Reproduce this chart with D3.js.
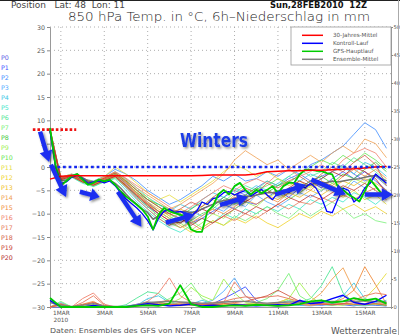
<!DOCTYPE html>
<html><head><meta charset="utf-8">
<script src="https://cdn.jsdelivr.net/npm/d3@7"></script>
<style>html,body{margin:0;padding:0;background:#fff;}svg{display:block;}</style>
</head><body><svg id="c" width="400" height="335"></svg>
<script>
// ---------- DATA ----------
const stepHours6 = d3.range(63).map(i => i * 6);
const stepHours12 = d3.range(32).map(i => i * 12);

const dayTickHours = [12, 60, 108, 156, 204, 252, 300, 348];
const dayTickLabels = ["1MAR", "3MAR", "5MAR", "7MAR", "9MAR", "11MAR", "13MAR", "15MAR"];
const yearLabel = "2010";
const tempTicks = [-30, -25, -20, -15, -10, -5, 0, 5, 10, 15, 20, 25, 30];
const precTicks = [0, 5, 10, 15, 20, 25, 30, 35, 40, 45, 50];

// 6-hourly main runs (°C)
const gfsMain = [8.4,0.5,-4.0,-3.0,-2.0,-1.5,-2.7,-3.8,-3.4,-2.7,-3.1,-2.7,-3.8,-5.2,-6.3,-7.2,-8.1,-9.1,-10.6,-13.4,-10.2,-8.8,-9.5,-9.9,-10.2,-10.9,-13.4,-13.9,-13.9,-9.5,-8.4,-5.9,-4.9,-5.9,-4.1,-3.4,-4.9,-5.9,-4.9,-5.6,-4.9,-4.1,-5.6,-4.1,-3.4,-3.4,-1.6,-0.6,-0.6,-0.8,-0.9,-1.3,-1.6,-4.1,-4.9,-5.9,-6.6,-7.4,-5.2,-2.7,-4.1,-5.6,-5.9];
const controlRun = [7.8,0,-3.5,-3.2,-2.2,-1.8,-2.5,-3.5,-3.2,-3.0,-3.4,-3.0,-4.0,-5.5,-6.8,-7.8,-8.8,-10,-11.5,-13.5,-11,-9.5,-9,-9.8,-9.5,-10,-10.5,-9.5,-7.5,-8,-6.8,-6.5,-5.5,-5.3,-6,-5.5,-5,-6.2,-5.5,-4.8,-6,-7,-5.5,-5,-5.5,-4.5,-3.8,-4.5,-3.5,-4.5,-6.5,-9.5,-9.8,-7,-4.5,-5,-7.5,-6.5,-4.5,-3.5,-1.5,-2.5,-3.5];
const ensembleMean = [8,0.5,-3,-2.8,-1.8,-1.5,-2.3,-3.0,-3.2,-2.8,-3.0,-2.8,-3.5,-4.5,-5.8,-7,-8,-9,-9.8,-11.2,-10.5,-9.5,-9.2,-9.5,-9.6,-9.5,-9.8,-9.5,-9,-8.5,-8,-7.5,-7.2,-7,-6.8,-6.5,-6.2,-6.3,-6,-5.8,-5.5,-5.5,-5.2,-5,-4.8,-4.5,-4.2,-4,-3.8,-3.5,-3.5,-3.3,-3,-3.2,-3,-2.8,-2.6,-2.5,-2.2,-2,-1.8,-2.5,-3];
// 12-hourly climatology (°C)
const climateMean = [-2.6,-2.0,-1.9,-1.9,-1.9,-1.9,-1.9,-1.9,-1.9,-1.9,-1.9,-1.9,-1.9,-1.9,-1.8,-1.7,-1.7,-1.7,-1.7,-1.5,-1.0,-0.9,-0.8,-0.8,-0.7,-0.7,-0.6,-0.5,-0.4,-0.2,0,0.1];

// 12-hourly ensemble members (°C)
const memberNames = ["P0","P1","P2","P3","P4","P5","P6","P7","P8","P9","P10","P11","P12","P13","P14","P15","P16","P17","P18","P19","P20"];
const memberColors = ["#5a5ae6","#3c50ff","#3c8cff","#50aaff","#3cc8e6","#3ce6c8","#50e696","#78f078","#3cc83c","#a0f050","#64e650","#e6dc3c","#f0d228","#f0be28","#f0a050","#f08c3c","#f0826e","#e6785a","#d25a46","#c83c32","#b42828"];
const memberTemps = [
 [8.0,-2.5,-1.8,-2.8,-3.5,-2.5,-1.5,-3.5,-5.5,-7.5,-9.5,-11,-12,-10.5,-9,-8,-6.5,-5,-6,-4.5,-3,-4,-2.5,-1.5,-3,-2,-1,0.5,-1.5,-3,-2,-4],
 [7.6,-2.8,-2.0,-3.0,-3.8,-2.8,-2.0,-4.0,-6.5,-8.5,-10,-9,-10.5,-12,-11,-9.5,-8,-9,-7.5,-8,-6.5,-5,-6.5,-4.5,-3,-4.5,-2.5,-1,-2.5,-1,-3,-5],
 [8.2,-2.2,-1.5,-2.5,-3.0,-2.0,-0.5,-1.5,-3,-5,-6.5,-8,-7,-5.5,-4,-2,-3,-1.5,-3,-2.5,-1,-2,-0.5,-1.5,0.5,1.5,3,4.5,7,9.5,8,4],
 [7.8,-2.6,-1.9,-3.2,-4.0,-3.0,-2.2,-4.5,-7,-9,-11,-12.5,-11,-9.5,-10.5,-8.5,-9.5,-7.5,-8.5,-6,-7.5,-8.5,-7,-5.5,-6.5,-5,-4,-5.5,-3,-4.5,-2,-3.5],
 [7.9,-2.4,-1.7,-2.7,-3.3,-2.4,-1.0,-2.5,-4.5,-6.5,-8,-9.5,-8,-9,-7,-5.5,-6.5,-4.5,-5.5,-4,-5,-3.5,-2,-3,-1.5,-2.5,-1,0,-1.5,1,0,-2],
 [7.5,-3.0,-2.2,-3.5,-4.2,-3.2,-2.5,-5,-7.5,-9.5,-11.5,-13,-14,-12.5,-11,-12,-10,-11,-9,-10,-8.5,-9.5,-8,-9,-7,-8,-6.5,-7.5,-5.5,-6.5,-8,-6],
 [8.1,-2.3,-1.6,-2.6,-3.2,-2.2,-1.2,-2.8,-5,-7,-8.5,-10,-11.5,-10,-8.5,-6.5,-7.5,-5.5,-4,-5,-3,-4,-2,-0.5,-2,-1,1,0,2,0.5,-1,-3],
 [7.7,-2.7,-2.0,-3.1,-3.7,-2.7,-1.8,-3.8,-6,-8,-9.5,-11,-10,-11.5,-13,-11.5,-12.5,-10.5,-11.5,-10,-8.5,-10,-11,-9,-10.5,-9,-7.5,-9,-11,-10,-11.5,-12],
 [8.0,-2.5,-1.8,-2.9,-3.6,-2.6,-1.6,-3.2,-5.5,-7,-8,-9,-10.5,-9,-7.5,-8.5,-6.5,-7.5,-6,-4.5,-5.5,-4,-3,-4.5,-3,-2,-3.5,-1.5,-2.5,-0.5,1,-1],
 [7.9,-2.4,-1.7,-2.8,-3.4,-2.3,-1.3,-3.0,-5,-6.5,-8.5,-10.5,-12,-13.5,-12,-10,-11,-9,-7.5,-8.5,-6.5,-5.5,-7,-5.5,-4,-5,-3.5,-4.5,-2.5,-3.5,-1.5,-4],
 [7.6,-2.9,-2.1,-3.3,-4.1,-3.1,-2.3,-4.2,-6.5,-8.5,-10.5,-12,-13,-11.5,-10,-9,-7,-8,-6.5,-5,-4,-2.5,-3.5,-1.5,0,1.5,0.5,2.5,1,3,1.5,-0.5],
 [8.2,-2.2,-1.5,-2.5,-3.1,-2.1,0,-1.5,-3.5,-5.5,-7,-6,-7.5,-6,-4.5,-3,-1,0.5,-0.5,-2,-1,-2.5,-4,-3,-4.5,-3,-5,-6.5,-5,-7,-6,-8],
 [7.8,-2.6,-1.9,-3.0,-3.7,-2.8,-2.0,-4.0,-6,-8,-9.5,-11,-12.5,-14,-13,-11.5,-12.5,-11,-12,-10.5,-12,-13,-11.5,-10,-11,-9.5,-10.5,-9,-8,-9.5,-8.5,-10],
 [7.9,-2.5,-1.8,-2.8,-3.5,-2.5,-1.4,-3.2,-5.5,-7.5,-9,-10.5,-9,-10,-8.5,-7,-8,-6,-7,-5,-6,-7,-5.5,-6.5,-5,-6,-4.5,-3,-4,-2.5,-3.5,-5],
 [8.0,-2.4,-1.7,-2.7,-3.3,-2.3,-1.1,-2.6,-4.5,-6,-7.5,-9,-8,-6.5,-5,-3.5,-1.5,1.5,3.5,2,0.5,1.5,-0.5,1,2.5,1,3,4.5,3,6,5,2],
 [7.7,-2.8,-2.0,-3.2,-3.9,-2.9,-2.1,-4.3,-6.8,-9,-11,-12.5,-11,-12,-10.5,-9,-10,-8.5,-7,-8,-6.5,-7.5,-5.5,-4,-5,-3,-4,-2,-0.5,-2,-0.5,-2.5],
 [8.1,-2.3,-1.6,-2.6,-3.2,-2.2,-1.0,-2.4,-4,-5.5,-7,-8.5,-10,-8.5,-7,-5.5,-4,-5,-3.5,-2.5,-3.5,-1.5,-0.5,-2,-1,0.5,-1,1.5,3,4,3,0],
 [7.8,-2.6,-1.9,-3.1,-3.8,-2.8,-1.9,-3.8,-6,-8,-10,-11.5,-13,-12,-13.5,-12,-10.5,-11.5,-10,-11,-9.5,-8,-9,-7.5,-8,-6.5,-7.5,-6,-7,-5.5,-4.5,-6],
 [7.9,-2.5,-1.8,-2.9,-3.6,-2.6,-1.7,-3.5,-5.8,-7.8,-9.5,-10,-9,-7.5,-8.5,-6.5,-5,-6,-4.5,-5.5,-3.5,-4.5,-3,-2,-3.5,-1.5,0,-1,1,2.5,0.5,-4],
 [8.0,-2.4,-1.7,-2.8,-3.4,-2.4,-1.3,-3.0,-5,-7,-8.5,-10,-11,-12.5,-11,-12,-10.5,-9,-10,-8.5,-9.5,-8,-6.5,-7.5,-6,-7,-5.5,-4,-5,-3.5,-5,-7],
 [7.7,-2.7,-2.0,-3.2,-3.9,-2.9,-2.0,-4.0,-6.2,-8.2,-10,-11.5,-12,-10.5,-9,-10,-8,-6.5,-7.5,-6,-5,-6,-4.5,-3,-4,-2.5,-1,-2,0,-1,-2.5,-5.5]
];

// 12-hourly 6h-precipitation (mm), right axis
const precipMemberIdx = [1, 3, 4, 6, 7, 9, 11, 14, 15, 16, 17, 18];
const precipMembers = [
 [0,0,0,0,0.3,0,0,0,0.5,0.8,0.4,0.2,0.3,0.5,0.4,0.6,1.5,2.5,3.6,1.2,0.3,0.2,0.4,0.8,0.5,0.3,0.6,0.4,0.2,0.5,0.3,0.2],
 [0,0.8,0,0,0,0,0,0.2,0.4,0.9,0.6,0.3,0.5,0.8,0.6,1.2,2.8,5.2,2.0,0.6,0.3,0.2,0.5,0.3,0.2,0.4,0.3,0.6,0.3,0.2,0.4,0.2],
 [0,0.5,0,0,0.2,0,0,0,0.3,1.5,2.0,0.8,0.3,0.5,1.2,0.6,0.3,0.4,0.2,0.3,0.5,0.4,0.6,0.3,0.5,0.8,0.6,2.0,4.3,1.5,0.8,1.2],
 [0,0.6,0,0,0.3,0,0,0.4,1.6,2.7,2.4,1.0,0.4,0.6,0.3,0.5,0.8,0.4,0.3,0.5,0.3,0.6,1.2,0.8,1.5,3.8,7.2,2.5,0.8,1.5,0.6,0.4],
 [0,1.0,0,0,0.5,0.2,0,0,0.3,0.6,0.5,1.5,2.5,4.3,1.5,0.6,0.4,0.3,0.5,0.8,1.5,3.0,6.0,2.0,0.8,0.5,0.3,0.6,0.4,0.3,0.5,0.3],
 [0,0.4,0,0,0,0,0,0,0.2,0.5,0.8,0.6,1.5,3.5,2.0,1.2,5.0,2.5,0.8,0.4,0.6,0.8,1.5,4.3,1.8,0.6,0.4,0.3,0.8,1.2,0.5,0.3],
 [0,0.3,0,0,0.4,0,0,0,0.2,0.3,0.5,0.3,0.2,0.4,0.3,0.5,0.4,0.3,0.5,0.6,0.4,0.8,1.5,0.6,0.4,1.2,0.8,0.6,0.4,1.5,3.5,6.0],
 [0,0.5,0,0.3,0.8,0,0,0,0.3,0.5,0.6,0.4,0.3,0.5,0.4,0.3,0.6,0.5,0.4,0.3,0.5,0.8,0.6,0.4,1.0,2.5,5.0,7.0,3.0,1.0,0.5,0.8],
 [0,0.4,0,0.5,1.0,0,0,0,0.2,0.4,0.3,0.5,0.6,0.3,0.5,0.4,0.3,0.6,0.4,0.5,0.3,0.4,0.6,0.5,0.3,0.5,0.8,1.5,3.0,7.2,4.0,0.5],
 [0,0.6,0,1.5,2.5,0.5,0,0,0.4,1.0,2.5,5.2,2.0,0.8,0.5,0.6,0.8,4.5,2.0,0.8,0.5,0.6,0.4,0.5,0.3,0.6,0.4,0.5,0.8,0.6,1.0,0.5],
 [0,0.5,0,0.8,2.0,0.3,0,0,0.3,0.6,0.9,1.2,0.8,0.6,0.5,0.8,1.0,1.5,1.8,1.6,1.8,2.0,1.5,1.0,0.8,0.6,0.5,0.6,1.2,2.0,2.5,2.2],
 [0,0.4,0,0.4,0.8,0.2,0,0,0.2,0.5,0.8,0.5,0.4,0.6,0.5,0.4,0.6,0.8,1.0,1.5,2.0,3.0,2.0,1.0,0.6,0.5,0.4,0.6,0.5,0.4,0.6,0.3]
];
const precipGfs = [1.6,0,0,0,0,0,0,0,0.2,0.3,0.2,0.6,3.9,0.5,0,0,0.2,0.3,0.2,0.4,0.3,0.2,0.3,0.5,1.0,1.2,0.8,1.0,1.6,1.2,1.5,0.6];
const precipControl = [1.2,0,0,0,0.3,0,0,0,0.3,0.6,0.4,0.2,0.3,0.5,0.2,0.3,0.2,0.4,0.3,0.2,0.3,0.4,0.3,1.2,0.6,0.8,1.5,2.1,0.8,0.5,1.0,2.1];
const precipMean = [0.8,0.3,0.1,0.3,0.6,0.2,0.1,0.1,0.4,0.8,0.9,1.0,0.9,0.8,0.7,0.7,0.9,1.0,1.0,0.8,0.7,0.8,0.9,0.9,0.8,0.9,1.0,1.0,1.0,1.1,1.0,0.9];

const legendLabels = ["30-Jahres-Mittel", "Kontroll-Lauf", "GFS-Hauptlauf", "Ensemble-Mittel"];
const legendColors = ["#ff0000", "#0000ff", "#00cc00", "#808080"];

// annotations in data space: [hour1, temp1, hour2, temp2]
const arrowsData = [
 [-11, 7.6, -1, 1.1], [1, 0.5, 17.7, -6.4], [33, -5.3, 55, -6.4], [75, -5.3, 101, -12.8],
 [128, -11.9, 160, -10.2], [188, -8.1, 219, -6.4], [249, -5.9, 283, -3.8],
 [289, -2.7, 327, -5.9], [348, -5.9, 379, -5.9]
];
const redDotted = {t: 8, h1: -19, h2: 29};
const blueDotted = {t: 0, h1: 2, h2: 377};
const annotationText = "Winters";

// ---------- DRAW ----------
const svg = d3.select("#c");
const x = d3.scaleLinear().domain([0, 377]).range([50, 391]);
const yT = d3.scaleLinear().domain([-30, 30]).range([307, 27]);
const yP = d3.scaleLinear().domain([0, 50]).range([307, 27]);
const font = "'DejaVu Sans', sans-serif";

const defs = svg.append("defs");
const f = defs.append("filter").attr("id", "sh").attr("x", "-20%").attr("y", "-20%").attr("width", "150%").attr("height", "160%");
f.append("feDropShadow").attr("dx", 1.5).attr("dy", 1.5).attr("stdDeviation", 1).attr("flood-color", "#000").attr("flood-opacity", 0.45);

svg.append("rect").attr("width", 400).attr("height", 335).attr("fill", "#fff");

// grid
const g = svg.append("g");
g.selectAll(".hg").data(tempTicks.filter(d => d > -30)).join("line")
  .attr("x1", 50).attr("x2", 391).attr("y1", d => yT(d)).attr("y2", d => yT(d))
  .attr("stroke", "#999").attr("stroke-width", 0.8).attr("stroke-dasharray", "1,3");
g.selectAll(".vg").data(dayTickHours).join("line")
  .attr("x1", d => x(d)).attr("x2", d => x(d)).attr("y1", 27).attr("y2", 307)
  .attr("stroke", "#999").attr("stroke-width", 0.8).attr("stroke-dasharray", "1,3");

// axes
const axL = svg.append("g").attr("transform", "translate(50,0)")
  .call(d3.axisLeft(yT).tickValues(tempTicks).tickSize(3).tickPadding(2));
const axR = svg.append("g").attr("transform", "translate(391,0)")
  .call(d3.axisRight(yP).tickValues(precTicks).tickSize(2).tickPadding(0.5));
const axB = svg.append("g").attr("transform", "translate(0,307)")
  .call(d3.axisBottom(x).tickValues(dayTickHours).tickFormat((d, i) => dayTickLabels[i]).tickSize(2).tickPadding(2));
[axL, axR, axB].forEach(a => {
  a.selectAll("path.domain").attr("stroke", "#999").attr("stroke-width", 1);
  a.selectAll(".tick line").attr("stroke", "#888");
  a.selectAll("text").attr("font-family", font).attr("font-size", 6.3).attr("fill", "#555");
});
axB.selectAll("text").attr("font-size", 5.8);
axR.selectAll("text").attr("font-size", 5.2);
svg.append("text").attr("x", x(dayTickHours[0])).attr("y", 322).attr("text-anchor", "middle")
  .attr("font-family", font).attr("font-size", 5.8).attr("fill", "#555").text(yearLabel);

// lines
const lineT12 = d3.line().x((d, i) => x(stepHours12[i])).y(d => yT(d));
const lineT6 = d3.line().x((d, i) => x(stepHours6[i])).y(d => yT(d));
const lineP12 = d3.line().x((d, i) => x(stepHours12[i])).y(d => yP(d));

const lines = svg.append("g").attr("fill", "none").attr("stroke-linejoin", "round");
lines.selectAll(".pm").data(precipMembers).join("path")
  .attr("d", d => lineP12(d)).attr("stroke", (d, i) => memberColors[precipMemberIdx[i]]).attr("stroke-width", 0.9);
lines.append("path").attr("d", lineP12(precipMean)).attr("stroke", "#808080").attr("stroke-width", 1.4);
lines.append("path").attr("d", lineP12(precipControl)).attr("stroke", "#0000ff").attr("stroke-width", 1.4);
lines.append("path").attr("d", lineP12(precipGfs)).attr("stroke", "#00cc00").attr("stroke-width", 1.8);

lines.selectAll(".tm").data(memberTemps).join("path")
  .attr("d", d => lineT12(d)).attr("stroke", (d, i) => memberColors[i]).attr("stroke-width", 0.8);
lines.append("path").attr("d", lineT6(ensembleMean)).attr("stroke", "#707070").attr("stroke-width", 1.5);
lines.append("path").attr("d", lineT6(controlRun)).attr("stroke", "#0000ff").attr("stroke-width", 1.3);
lines.append("path").attr("d", lineT6(gfsMain)).attr("stroke", "#00cc00").attr("stroke-width", 1.8);
lines.append("path").attr("d", lineT12(climateMean)).attr("stroke", "#ff0000").attr("stroke-width", 1.5);

// legend
const lg = svg.append("g");
lg.append("rect").attr("x", 291).attr("y", 27).attr("width", 100).attr("height", 38)
  .attr("fill", "#fff").attr("stroke", "#999").attr("stroke-width", 0.8);
legendLabels.forEach((lab, i) => {
  const yy = 35.3 + i * 8;
  lg.append("line").attr("x1", 302).attr("x2", 323).attr("y1", yy).attr("y2", yy)
    .attr("stroke", legendColors[i]).attr("stroke-width", 1.5);
  lg.append("text").attr("x", 333).attr("y", yy + 2).attr("font-family", font).attr("font-size", 5.6)
    .attr("fill", "#555").text(lab);
});

// member labels
svg.selectAll(".ml").data(memberNames).join("text")
  .attr("x", 1).attr("y", (d, i) => 59.5 + i * 10)
  .attr("font-family", font).attr("font-size", 6.3).attr("fill", (d, i) => memberColors[i]).text(d => d);

// headings
svg.append("text").attr("x", 11).attr("y", 8).attr("font-family", font).attr("font-size", 8)
  .attr("fill", "#444").attr("textLength", 114).attr("lengthAdjust", "spacingAndGlyphs")
  .attr("xml:space", "preserve").text("Position   Lat: 48  Lon: 11");
svg.append("text").attr("x", 68).attr("y", 21).attr("font-family", font).attr("font-size", 12.5)
  .attr("font-weight", 200).attr("fill", "#222").attr("textLength", 302).attr("lengthAdjust", "spacingAndGlyphs")
  .text("850 hPa Temp. in °C, 6h\u2013Niederschlag in mm");
svg.append("text").attr("x", 270).attr("y", 8).attr("font-family", font).attr("font-size", 8)
  .attr("font-weight", "bold").attr("fill", "#111").attr("textLength", 97).attr("lengthAdjust", "spacingAndGlyphs")
  .attr("xml:space", "preserve").text("Sun,28FEB2010  12Z");
svg.append("text").attr("x", 50).attr("y", 333).attr("font-family", font).attr("font-size", 7)
  .attr("fill", "#555").attr("textLength", 146).attr("lengthAdjust", "spacingAndGlyphs")
  .text("Daten: Ensembles des GFS von NCEP");
svg.append("text").attr("x", 331).attr("y", 333.5).attr("font-family", font).attr("font-size", 9)
  .attr("fill", "#555").attr("textLength", 66).attr("lengthAdjust", "spacingAndGlyphs")
  .text("Wetterzentrale");

// annotations
svg.append("line").attr("x1", x(redDotted.h1)).attr("x2", x(redDotted.h2))
  .attr("y1", yT(redDotted.t)).attr("y2", yT(redDotted.t))
  .attr("stroke", "#ee1010").attr("stroke-width", 2.6).attr("stroke-dasharray", "2.6,2");
svg.append("line").attr("x1", x(blueDotted.h1)).attr("x2", x(blueDotted.h2))
  .attr("y1", yT(blueDotted.t)).attr("y2", yT(blueDotted.t))
  .attr("stroke", "#1428ee").attr("stroke-width", 2.6).attr("stroke-dasharray", "2.8,2.8");

function arrowPath(a) {
  const x1 = x(a[0]), y1 = yT(a[1]), x2 = x(a[2]), y2 = yT(a[3]);
  const dx = x2 - x1, dy = y2 - y1, len = Math.hypot(dx, dy);
  const ux = dx / len, uy = dy / len, nx = -uy, ny = ux;
  const w = 2.2, H = 6.5, L = Math.min(11, len * 0.45);
  const bx = x2 - ux * L, by = y2 - uy * L;
  const pts = [[x1 + nx * w, y1 + ny * w], [bx + nx * w, by + ny * w], [bx + nx * H, by + ny * H], [x2, y2],
    [bx - nx * H, by - ny * H], [bx - nx * w, by - ny * w], [x1 - nx * w, y1 - ny * w]];
  return "M" + pts.map(p => p[0].toFixed(1) + "," + p[1].toFixed(1)).join("L") + "Z";
}
svg.append("g").attr("filter", "url(#sh)").selectAll("path").data(arrowsData).join("path")
  .attr("d", arrowPath).attr("fill", "#1a2ff0");

svg.append("text").attr("x", 180).attr("y", 147).attr("font-family", font).attr("font-size", 19)
  .attr("font-weight", "bold").attr("fill", "#1e3ce6").attr("filter", "url(#sh)")
  .attr("textLength", 68).attr("lengthAdjust", "spacingAndGlyphs").text(annotationText);

// frame
svg.append("line").attr("x1", 0).attr("x2", 400).attr("y1", 0.5).attr("y2", 0.5).attr("stroke", "#222");
svg.append("line").attr("x1", 398.5).attr("x2", 398.5).attr("y1", 0).attr("y2", 335).attr("stroke", "#aaa");
</script></body></html>
